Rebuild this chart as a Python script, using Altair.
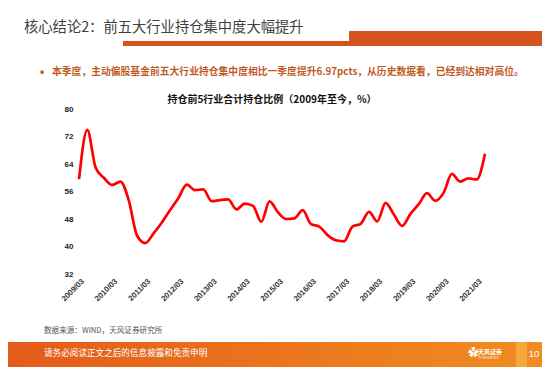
import altair as alt
import pandas as pd

# ---- data ----
quarters = [
    "2009/03", "2009/06", "2009/09", "2009/12", "2010/03", "2010/06", "2010/09", "2010/12",
    "2011/03", "2011/06", "2011/09", "2011/12", "2012/03", "2012/06", "2012/09", "2012/12",
    "2013/03", "2013/06", "2013/09", "2013/12", "2014/03", "2014/06", "2014/09", "2014/12",
    "2015/03", "2015/06", "2015/09", "2015/12", "2016/03", "2016/06", "2016/09", "2016/12",
    "2017/03", "2017/06", "2017/09", "2017/12", "2018/03", "2018/06", "2018/09", "2018/12",
    "2019/03", "2019/06", "2019/09", "2019/12", "2020/03", "2020/06", "2020/09", "2020/12",
    "2021/03", "2021/06",
]
share = [
    59.6, 73.9, 63.0, 60.0, 57.9, 58.9, 53.5, 43.2,
    41.0, 43.8, 47.0, 50.6, 54.1, 58.0, 56.4, 56.6,
    53.2, 53.5, 53.7, 50.8, 52.5, 51.8, 47.2, 53.1,
    50.0, 48.0, 48.2, 50.6, 46.5, 45.8, 43.3, 41.8,
    41.5, 45.8, 46.6, 50.1, 47.3, 52.7, 49.3, 46.0,
    49.5, 52.3, 55.5, 53.3, 55.6, 61.1, 58.9, 59.8,
    59.5, 67.0,
]
year_ticks = ["2009/03", "2010/03", "2011/03", "2012/03", "2013/03", "2014/03", "2015/03",
              "2016/03", "2017/03", "2018/03", "2019/03", "2020/03", "2021/03"]
y_ticks = [32, 40, 48, 56, 64, 72, 80]

page_title = "核心结论2：前五大行业持仓集中度大幅提升"
bullet_text = "本季度，主动偏股基金前五大行业持仓集中度相比一季度提升6.97pcts，从历史数据看，已经到达相对高位。"
chart_title = "持仓前5行业合计持仓比例（2009年至今，%）"
source_text = "数据来源：WIND，天风证券研究所"
footer_text = "请务必阅读正文之后的信息披露和免责申明"
page_no = "10"

df = pd.DataFrame({"q": quarters, "v": share})
tick_df = pd.DataFrame({"q": year_ticks})

CJK = "Noto Sans CJK SC"
LAT = "Liberation Sans"
ORANGE = "#D6521E"

# plot area origin in page coords: (79, 109); svg origin at (8, 8)
OX, OY = 79, 109
W, H = 406, 165
RIGHT_EDGE = 542   # svg right edge in page coords
BOTTOM_EDGE = 367  # svg bottom edge in page coords


def px(x):
    return x - OX


def py(y):
    return y - OY


one = alt.Data(values=[{}])

x_scale = alt.Scale(type="point", padding=0, domain=quarters)
x_enc = alt.X("q:O", sort=None, scale=x_scale,
              axis=alt.Axis(labels=False, ticks=False, domainColor="#D9D9D9", domainWidth=1,
                            grid=False, title=None))

line = alt.Chart(df).mark_line(color="#FF0000", strokeWidth=2.7, interpolate="monotone").encode(
    x=x_enc,
    y=alt.Y("v:Q",
            scale=alt.Scale(domain=[32, 80], nice=False, zero=False),
            axis=alt.Axis(values=y_ticks, labelFontSize=8, labelFontWeight="bold",
                          labelFont=LAT, labelColor="#222222", ticks=False, domain=False,
                          grid=False, title=None, labelPadding=6)),
)

xlabels = alt.Chart(tick_df).mark_text(
    angle=315, align="right", baseline="top", fontSize=7.8, fontWeight="bold",
    font=LAT, color="#333333", dx=2,
).encode(x=alt.X("q:O", sort=None, scale=x_scale, axis=None),
         y=alt.value(H + 5), text="q:N")


def txt(text, x, y, size, color, weight="normal", align="left", font=CJK):
    return alt.Chart(one).mark_text(
        text=text, fontSize=size, color=color, fontWeight=weight, align=align,
        baseline="middle", font=font,
    ).encode(x=alt.value(px(x)), y=alt.value(py(y)))


def rect(x1, x2, y1, y2, fill):
    return alt.Chart(one).mark_rect(fill=fill, stroke=None).encode(
        x=alt.value(px(x1)), x2=alt.value(px(x2)), y=alt.value(py(y1)), y2=alt.value(py(y2))
    )


footer_grad = alt.LinearGradient(
    gradient="linear", x1=0, x2=1, y1=0, y2=0,
    stops=[alt.GradientStop(color="#E35A1A", offset=0),
           alt.GradientStop(color="#EC7A1E", offset=0.6),
           alt.GradientStop(color="#F08E22", offset=1)],
)

layers = [
    rect(123, 349, 41, 46, ORANGE),
    rect(349, 560, 31, 46, ORANGE),
    txt(page_title, 24, 28, 14.3, "#404040"),
    txt("•", 40, 72, 12, "#BF5A1F", "bold", "left", LAT),
    txt(bullet_text, 52, 72, 9.8, "#BF5A1F", "bold"),
    txt(chart_title, 272, 100, 10, "#111111", "bold", "center"),
    txt(source_text, 44, 331, 7.6, "#555555"),
    rect(0, 560, 342, 380, footer_grad),
    rect(516, 527, 342, 380, "#F5A640"),
    txt(footer_text, 44, 353, 8.6, "#FFFFFF"),
    txt("✿", 468, 354, 11, "#FFFFFF", "bold"),
    txt("天风证券", 478, 352, 6, "#FFFFFF", "bold"),
    txt("TF SECURITIES", 478, 358, 3, "#FFFFFF"),
    txt(page_no, 534, 354, 9.5, "#FFFFFF", "normal", "center", LAT),
    line,
    xlabels,
]

chart = alt.layer(*layers).properties(
    width=W, height=H,
    padding={"left": OX - 8, "top": OY - 8, "right": RIGHT_EDGE - OX - W,
             "bottom": BOTTOM_EDGE - OY - H},
    autosize=alt.AutoSizeParams(type="none"),
    background="white",
).configure_view(stroke=None)

chart.save("out.html", embed_options={"renderer": "svg", "actions": False})
